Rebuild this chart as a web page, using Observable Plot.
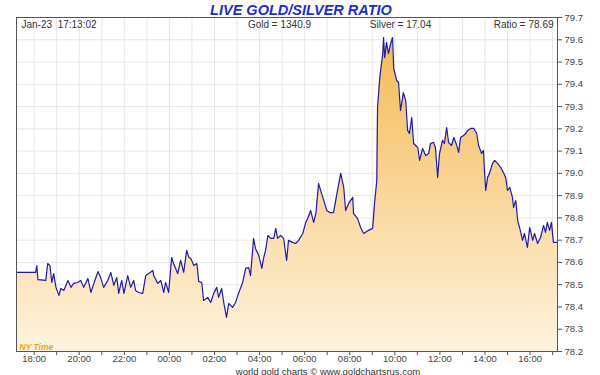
<!DOCTYPE html>
<html>
<head>
<meta charset="utf-8">
<script src="https://cdn.jsdelivr.net/npm/d3@7"></script>
<script src="https://cdn.jsdelivr.net/npm/@observablehq/plot@0.6"></script>
<style>
  html, body { margin: 0; padding: 0; background: #fff; }
  #chart svg text { white-space: pre; }
</style>
</head>
<body>
<div id="chart"></div>
<script>
// ---- data ----
// minutes after Jan-22 17:13 (NY time)
const minutes = [
  0, 51, 54, 57, 78, 83, 89, 94, 99, 105, 113, 118, 126, 137, 145, 152, 163, 171, 179, 190,
  198, 206, 217, 224, 232, 243, 251, 259, 267, 272, 280, 286, 296, 304, 312, 317, 325, 336, 344, 352,
  363, 365, 376, 384, 392, 397, 405, 413, 418, 429, 437, 445, 453, 459, 464, 472, 480, 485, 493, 498,
  509, 517, 525, 533, 538, 546, 552, 559, 565, 575, 583, 591, 602, 610, 618, 623, 631, 636, 645, 653,
  658, 663, 669, 677, 685, 690, 695, 703, 711, 719, 724, 735, 743, 751, 762, 770, 775, 783, 791, 797,
  804, 812, 818, 826, 834, 844, 852, 858, 863, 871, 876, 884, 895, 897, 908, 916, 924, 929, 937, 948,
  953, 959, 961, 967, 975, 977, 980, 985, 990, 996, 1001, 1004, 1012, 1017, 1022, 1030, 1036, 1041, 1046, 1052,
  1057, 1068, 1073, 1081, 1089, 1097, 1102, 1110, 1115, 1121, 1126, 1134, 1139, 1145, 1150, 1158, 1164, 1172, 1177, 1182,
  1190, 1196, 1201, 1209, 1217, 1225, 1230, 1238, 1243, 1246, 1249, 1254, 1259, 1267, 1273, 1281, 1289, 1297, 1302, 1307,
  1313, 1320, 1323, 1329, 1334, 1339, 1347, 1352, 1360, 1366, 1374, 1379, 1387, 1395, 1403, 1408, 1413, 1419, 1424, 1429,
  1440
];
const ratio = [
  78.555, 78.555, 78.586, 78.523, 78.519, 78.595, 78.586, 78.510, 78.550, 78.488, 78.452, 78.483, 78.474, 78.519, 78.488, 78.506, 78.510, 78.519, 78.488, 78.528,
  78.465, 78.506, 78.559, 78.532, 78.488, 78.519, 78.555, 78.497, 78.532, 78.461, 78.519, 78.461, 78.541, 78.488, 78.519, 78.474, 78.465, 78.461, 78.541, 78.550,
  78.564, 78.541, 78.506, 78.519, 78.465, 78.510, 78.465, 78.622, 78.595, 78.550, 78.609, 78.555, 78.654, 78.622, 78.618, 78.586, 78.595, 78.515, 78.510, 78.429,
  78.443, 78.420, 78.461, 78.488, 78.443, 78.483, 78.416, 78.353, 78.416, 78.398, 78.420, 78.461, 78.510, 78.573, 78.577, 78.541, 78.708, 78.663, 78.631, 78.573,
  78.622, 78.654, 78.721, 78.708, 78.708, 78.753, 78.708, 78.721, 78.708, 78.609, 78.699, 78.690, 78.685, 78.699, 78.730, 78.780, 78.797, 78.833, 78.780, 78.820,
  78.955, 78.910, 78.878, 78.833, 78.824, 78.824, 78.901, 78.955, 79.000, 78.937, 78.833, 78.865, 78.892, 78.820, 78.797, 78.757, 78.730, 78.735, 78.744, 78.753,
  78.865, 78.968, 79.296, 79.431, 79.538, 79.610, 79.520, 79.588, 79.538, 79.583, 79.610, 79.471, 79.417, 79.408, 79.282, 79.363, 79.327, 79.193, 79.179, 79.251,
  79.134, 79.116, 79.058, 79.112, 79.080, 79.089, 79.134, 79.139, 79.116, 78.982, 79.089, 79.148, 79.134, 79.206, 79.139, 79.125, 79.161, 79.125, 79.094, 79.161,
  79.170, 79.179, 79.193, 79.202, 79.202, 79.179, 79.125, 79.089, 79.103, 79.000, 78.923, 78.982, 79.000, 79.044, 79.058, 79.044, 79.026, 79.000, 78.982, 78.923,
  78.937, 78.892, 78.847, 78.878, 78.788, 78.757, 78.699, 78.730, 78.667, 78.757, 78.699, 78.730, 78.685, 78.712, 78.766, 78.735, 78.780, 78.744, 78.780, 78.690,
  78.690
];
const yTicks = [78.2, 78.3, 78.4, 78.5, 78.6, 78.7, 78.8, 78.9, 79.0, 79.1, 79.2, 79.3, 79.4, 79.5, 79.6, 79.7];
const titleText = "LIVE GOLD/SILVER RATIO";
const stampText = "Jan-23  17:13:02";
const goldText = "Gold = 1340.9";
const silverText = "Silver = 17.04";
const ratioText = "Ratio = 78.69";
const tzText = "NY Time";
const creditText = "world gold charts \u00A9 www.goldchartsrus.com";

// ---- build table ----
const start = new Date(Date.UTC(2018, 0, 22, 17, 13));
const end = new Date(Date.UTC(2018, 0, 23, 17, 13));
const data = minutes.map((m, i) => ({date: new Date(+start + m * 60000), ratio: ratio[i]}));
const yMin = yTicks[0], yMax = yTicks[yTicks.length - 1];

const font = "'Liberation Sans', Arial, Helvetica, sans-serif";

const plot = Plot.plot({
  width: 600,
  height: 375,
  marginLeft: 16,
  marginRight: 43,
  marginTop: 17,
  marginBottom: 24,
  style: {fontFamily: font, fontSize: "9.5px", color: "#333", background: "#fff"},
  x: {type: "utc", domain: [start, end], label: null},
  y: {domain: [yMin, yMax], label: null},
  marks: [
    Plot.gridX(d3.utcHour.range(start, end), {stroke: "#e6e6ee", strokeOpacity: 1}),
    Plot.gridY(yTicks, {stroke: "#e6e6ee", strokeOpacity: 1}),
    Plot.areaY(data, {x: "date", y1: () => yMin, y2: "ratio", fill: "url(#goldFill)"}),
    Plot.lineY(data, {x: "date", y: "ratio", stroke: "#1d1daa", strokeWidth: 1.2}),
    Plot.frame({stroke: "#555"}),
    Plot.axisY(yTicks, {anchor: "right", label: null, tickFormat: d => d.toFixed(1), tickSize: 4, tickPadding: 3, stroke: "#555", fill: "#444"}),
    Plot.axisX(d3.utcHour.range(start, end), {anchor: "bottom", label: null, tickSize: 4, text: null, stroke: "#555"}),
    Plot.axisX(d3.utcHour.every(2).range(start, end), {anchor: "bottom", label: null, tickSize: 0, tickPadding: 4, tickFormat: d3.utcFormat("%H:%M"), fill: "#444"}),
    // title and header
    Plot.text([titleText], {frameAnchor: "top", lineAnchor: "bottom", dx: 14, dy: -3, fill: "#1a2fc8", fontSize: 14.5, fontWeight: "bold", fontStyle: "italic"}),
    Plot.text([stampText], {frameAnchor: "top-left", textAnchor: "start", lineAnchor: "bottom", dx: 5, dy: 10, fill: "#333", fontSize: 10}),
    Plot.text([goldText], {frameAnchor: "top-left", textAnchor: "middle", lineAnchor: "bottom", dx: 263, dy: 10, fill: "#333", fontSize: 10}),
    Plot.text([silverText], {frameAnchor: "top-left", textAnchor: "middle", lineAnchor: "bottom", dx: 384, dy: 10, fill: "#333", fontSize: 10}),
    Plot.text([ratioText], {frameAnchor: "top-right", textAnchor: "end", lineAnchor: "bottom", dx: -4, dy: 10, fill: "#333", fontSize: 10}),
    Plot.text([tzText], {frameAnchor: "bottom-left", textAnchor: "start", lineAnchor: "bottom", dx: 3, dy: -2, fill: "#e9a81c", fontSize: 8.5, fontWeight: "bold", fontStyle: "italic"}),
    Plot.text([creditText], {frameAnchor: "bottom", lineAnchor: "bottom", dx: 41, dy: 23, fill: "#333", fontSize: 9.5})
  ]
});

// gradient definition for the area fill
const ns = "http://www.w3.org/2000/svg";
const defs = document.createElementNS(ns, "defs");
const grad = document.createElementNS(ns, "linearGradient");
grad.setAttribute("id", "goldFill");
grad.setAttribute("x1", "0"); grad.setAttribute("y1", "0");
grad.setAttribute("x2", "0"); grad.setAttribute("y2", "1");
[["0%", "#f5bb55"], ["45%", "#f9d393"], ["100%", "#fef3de"]].forEach(([o, c]) => {
  const s = document.createElementNS(ns, "stop");
  s.setAttribute("offset", o);
  s.setAttribute("stop-color", c);
  grad.appendChild(s);
});
defs.appendChild(grad);
plot.insertBefore(defs, plot.firstChild);

document.getElementById("chart").appendChild(plot);
</script>
</body>
</html>
